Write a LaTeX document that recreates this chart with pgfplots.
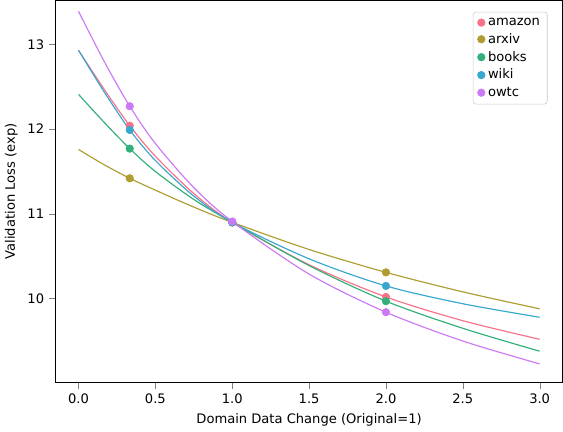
\documentclass[border=0pt]{standalone}
\usepackage{pgfplots}
\pgfplotsset{compat=1.18}
\usepackage{fontspec}
\setmainfont{DejaVu Sans}
\definecolor{c1}{HTML}{F77189}
\definecolor{c2}{HTML}{AE9D31}
\definecolor{c3}{HTML}{33B07A}
\definecolor{c4}{HTML}{38A7D0}
\definecolor{c5}{HTML}{CC7AF4}
\begin{document}
\begin{tikzpicture}
\begin{axis}[scale only axis, width=349pt, height=263pt,
 xmin=-0.15, xmax=3.15, ymin=9.01, ymax=13.52,
 xtick={0,0.5,1,1.5,2,2.5,3}, xticklabels={0.0,0.5,1.0,1.5,2.0,2.5,3.0},
 ytick={10,11,12,13},
 tick align=outside, tick pos=left,
 font=\fontsize{9}{10}\selectfont,
 /pgf/number format/assume math mode=true,
 xlabel={Domain Data Change (Original=1)}, ylabel={Validation Loss (exp)},
 legend pos=north east, legend cell align=left,
 legend style={draw=black!20, rounded corners=2pt, font=\fontsize{9}{11}\selectfont},
]
\addplot[only marks, mark=*, mark size=2.6pt, c1] coordinates {(0.3333,12.04)(1,10.9)(2,10.02)};
\addplot[only marks, mark=*, mark size=2.6pt, c2] coordinates {(0.3333,11.42)(1,10.9)(2,10.31)};
\addplot[only marks, mark=*, mark size=2.6pt, c3] coordinates {(0.3333,11.77)(1,10.9)(2,9.97)};
\addplot[only marks, mark=*, mark size=2.6pt, c4] coordinates {(0.3333,11.99)(1,10.9)(2,10.15)};
\addplot[only marks, mark=*, mark size=2.6pt, c5] coordinates {(0.3333,12.27)(1,10.91)(2,9.84)};
\legend{amazon,arxiv,books,wiki,owtc}
\addplot[c1, thick, smooth] coordinates {(0,12.93)(0.1667,12.47)(0.3333,12.04)(0.5,11.68)(0.75,11.24)(1,10.9)(1.5,10.40)(2,10.02)(2.5,9.74)(3,9.52)};
\addplot[c2, thick, smooth] coordinates {(0,11.76)(0.1667,11.58)(0.3333,11.42)(0.5,11.28)(0.75,11.08)(1,10.9)(1.5,10.58)(2,10.31)(2.5,10.08)(3,9.88)};
\addplot[c3, thick, smooth] coordinates {(0,12.41)(0.1667,12.08)(0.3333,11.77)(0.5,11.50)(0.75,11.17)(1,10.9)(1.5,10.39)(2,9.97)(2.5,9.65)(3,9.38)};
\addplot[c4, thick, smooth] coordinates {(0,12.93)(0.1667,12.44)(0.3333,11.99)(0.5,11.63)(0.75,11.21)(1,10.9)(1.5,10.47)(2,10.15)(2.5,9.94)(3,9.78)};
\addplot[c5, thick, smooth] coordinates {(0,13.39)(0.1667,12.80)(0.3333,12.27)(0.5,11.83)(0.75,11.31)(1,10.91)(1.5,10.29)(2,9.84)(2.5,9.50)(3,9.23)};
\end{axis}
\end{tikzpicture}
\end{document}
